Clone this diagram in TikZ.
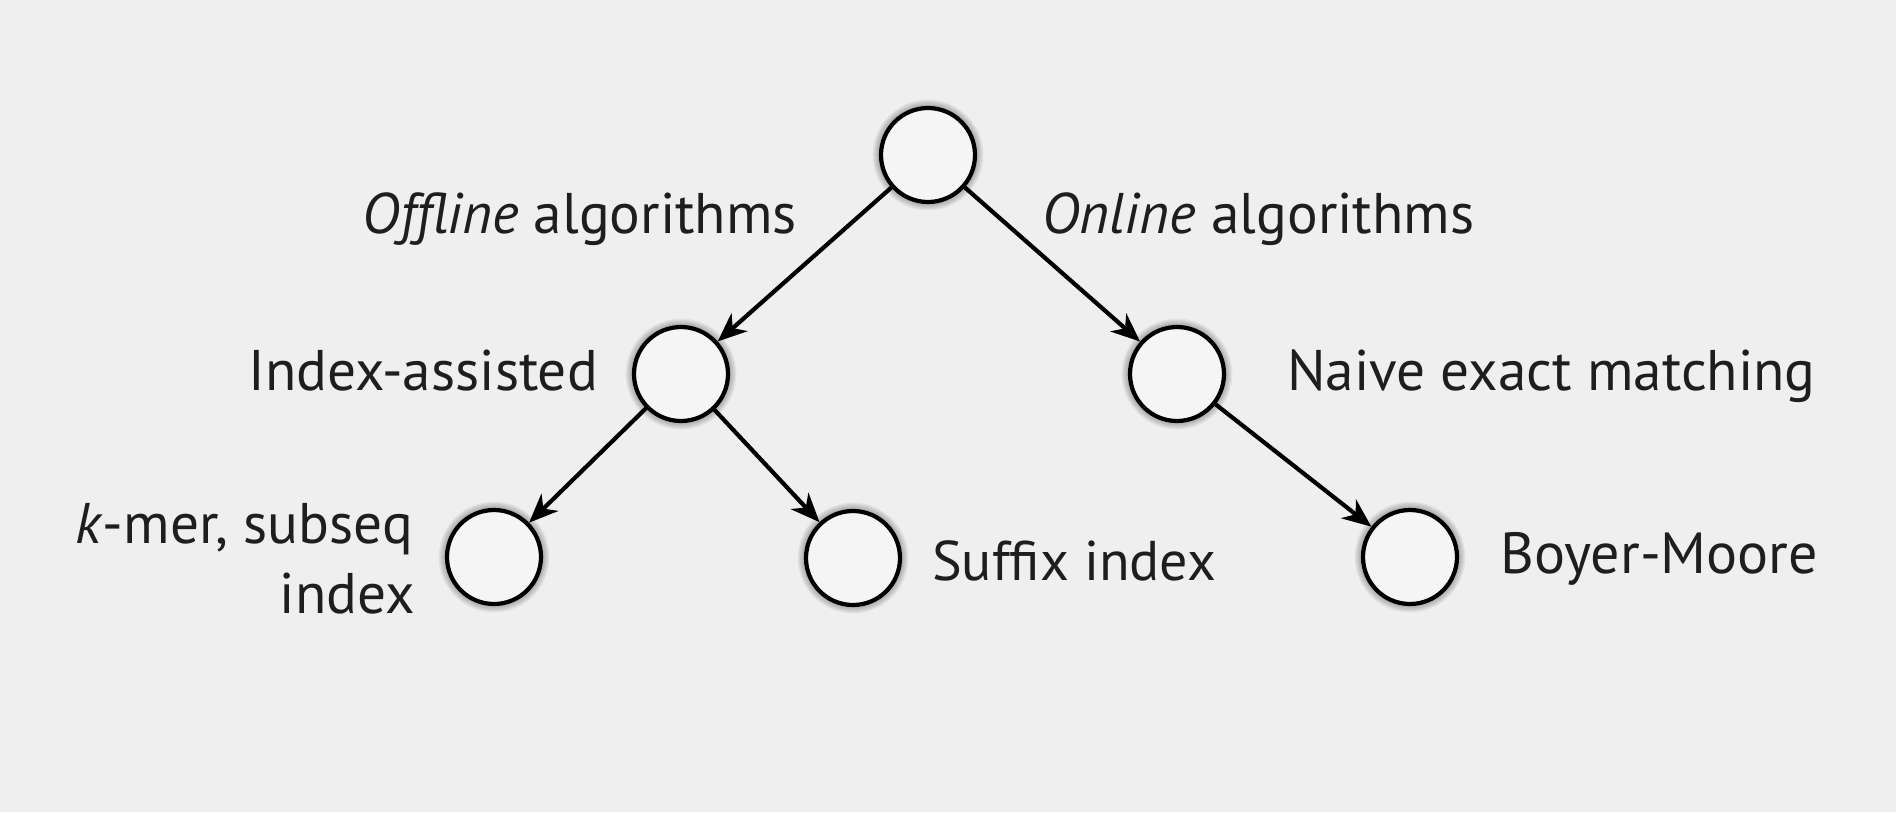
\documentclass[tikz,border=0pt]{standalone}
\usepackage{fontspec}
\setmainfont{PT Sans}
\usetikzlibrary{arrows.meta}
\definecolor{bg}{HTML}{EFEFEF}
\definecolor{nodefill}{HTML}{F5F5F5}
\definecolor{textcol}{HTML}{1E1E1E}
\begin{document}
\begin{tikzpicture}[x=1pt,y=-1pt,
  state/.style={circle, draw=black, line width=4.2pt, fill=nodefill, minimum size=94pt, inner sep=0pt},
  lbl/.style={inner sep=0pt, font=\fontsize{57.3}{62}\selectfont, text=textcol},
  edge/.style={line width=4.2pt, draw=black, -{Stealth[length=29pt,width=24pt,inset=9pt]}},
  shadowc/.style={fill=black, opacity=0.055}]
\useasboundingbox[fill=bg] (0,0) rectangle (1896,812);
% positions
\coordinate (pr) at (928,155);
\coordinate (pi) at (681,374);
\coordinate (pn) at (1177,374);
\coordinate (pk) at (494,557);
\coordinate (ps) at (853,558);
\coordinate (pb) at (1410,557);
% shadows
\foreach \p in {pr,pi,pn,pk,ps,pb}{
  \foreach \k in {0,...,8}{
    \fill[shadowc, shift={(6,9)}] (\p) circle[radius=45+\k*1.3];
  }
}
% nodes
\node[state] (root) at (pr) {};
\node[state] (idx) at (pi) {};
\node[state] (naive) at (pn) {};
\node[state] (kmer) at (pk) {};
\node[state] (suffix) at (ps) {};
\node[state] (boyer) at (pb) {};
% edges
\draw[edge] (root) -- (idx);
\draw[edge] (root) -- (naive);
\draw[edge] (idx) -- (kmer);
\draw[edge] (idx) -- (suffix);
\draw[edge] (naive) -- (boyer);
% labels
\node[lbl, anchor=base east] (offl) at (797,233) {\textit{Offline} algorithms};
\node[lbl, anchor=base west] (onl) at (1042,233) {\textit{Online} algorithms};
\node[lbl, anchor=base east] (idxl) at (598,390) {Index-assisted};
\node[lbl, anchor=base west] (naivel) at (1287,390) {Naive exact matching};
\node[lbl, anchor=base east] (kmerl1) at (413,543) {\textit{k}-mer, subseq};
\node[lbl, anchor=base east] (kmerl2) at (415,613) {index};
\node[lbl, anchor=base west, font=\fontsize{56}{60}\selectfont] (suffixl) at (932,580) {Suffix index};
\node[lbl, anchor=base west, font=\fontsize{58}{62}\selectfont] (boyerl) at (1500,573) {Boyer-Moore};
\end{tikzpicture}
\end{document}
